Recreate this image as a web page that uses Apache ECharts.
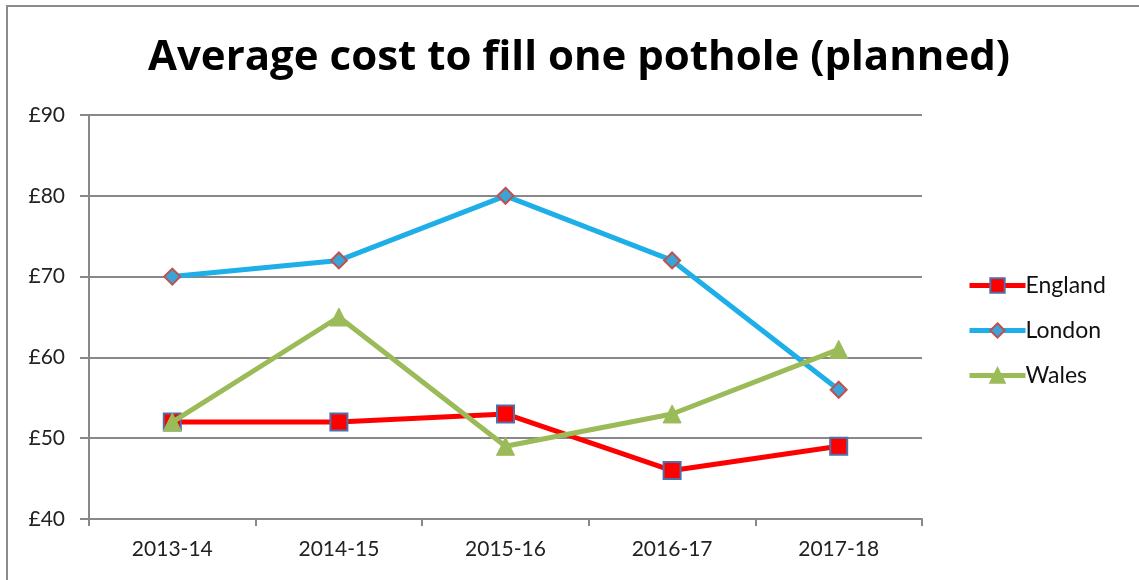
<!DOCTYPE html>
<html>
<head>
<meta charset="utf-8">
<script src="https://cdn.jsdelivr.net/npm/echarts@6/dist/echarts.min.js"></script>
<style>
  html, body { margin: 0; padding: 0; background: #fff; }
  #myChart { width: 1139px; height: 580px; }
</style>
</head>
<body>
<div id="myChart"></div>
<script>
var years = ["2013-14", "2014-15", "2015-16", "2016-17", "2017-18"];
var england = [52, 52, 53, 46, 49];
var london = [70, 72, 80, 72, 56];
var wales = [52, 65, 49, 53, 61];

var chartDom = document.getElementById("myChart");
var myChart = echarts.init(chartDom);

var option = {
  backgroundColor: "#fff",
  animation: false,
  title: {
    text: "Average cost to fill one pothole (planned)",
    left: 574,
    textAlign: "center",
    top: 32,
    textStyle: {
      fontFamily: "Open Sans",
      fontWeight: "bold",
      fontSize: 42,
      color: "#000"
    }
  },
  graphic: [
    {
      type: "rect",
      shape: { x: 7, y: 6, width: 1140, height: 580 },
      style: { fill: null, stroke: "#8c8c8c", lineWidth: 2 }
    }
  ],
  legend: {
    orient: "vertical",
    left: 962,
    top: 269,
    itemWidth: 56,
    itemHeight: 18,
    itemGap: 22,
    data: [
      { name: "England", lineStyle: { width: 5 } },
      { name: "London", lineStyle: { width: 5 } },
      { name: "Wales", lineStyle: { width: 5 } }
    ],
    textStyle: { fontFamily: "Lato", fontSize: 23, color: "#111", padding: [0, 0, 0, -5] }
  },
  grid: {
    left: 89,
    right: 217,
    top: 115,
    bottom: 61
  },
  xAxis: {
    type: "category",
    data: years,
    boundaryGap: true,
    axisLine: { lineStyle: { color: "#888", width: 2 } },
    axisTick: { show: true, length: 7, lineStyle: { color: "#888", width: 2 } },
    axisLabel: { fontFamily: "Lato", fontSize: 21, color: "#222", margin: 20 }
  },
  yAxis: {
    type: "value",
    min: 40,
    max: 90,
    interval: 10,
    axisLine: { show: true, lineStyle: { color: "#888", width: 2 } },
    axisTick: { show: true, length: 9, lineStyle: { color: "#888", width: 2 } },
    splitLine: { lineStyle: { color: "#888", width: 2 } },
    axisLabel: {
      fontFamily: "Lato",
      fontSize: 21,
      color: "#222",
      margin: 24,
      formatter: function (v) { return "£" + v; }
    }
  },
  series: [
    {
      name: "England",
      type: "line",
      data: england,
      symbol: "rect",
      symbolSize: 17,
      z: 3,
      lineStyle: { color: "#ff0000", width: 5 },
      itemStyle: { color: "#ff0000", borderColor: "#4f6fa8", borderWidth: 2 }
    },
    {
      name: "London",
      type: "line",
      data: london,
      symbol: "diamond",
      symbolSize: 16,
      z: 4,
      lineStyle: { color: "#1eaee8", width: 5 },
      itemStyle: { color: "#3aa4d8", borderColor: "#c0504d", borderWidth: 2 }
    },
    {
      name: "Wales",
      type: "line",
      data: wales,
      symbol: "triangle",
      symbolSize: 18,
      z: 5,
      lineStyle: { color: "#9bbb59", width: 5 },
      itemStyle: { color: "#9bbb59", borderColor: "#9bbb59", borderWidth: 1 }
    }
  ]
};

option && myChart.setOption(option);
</script>
</body>
</html>
